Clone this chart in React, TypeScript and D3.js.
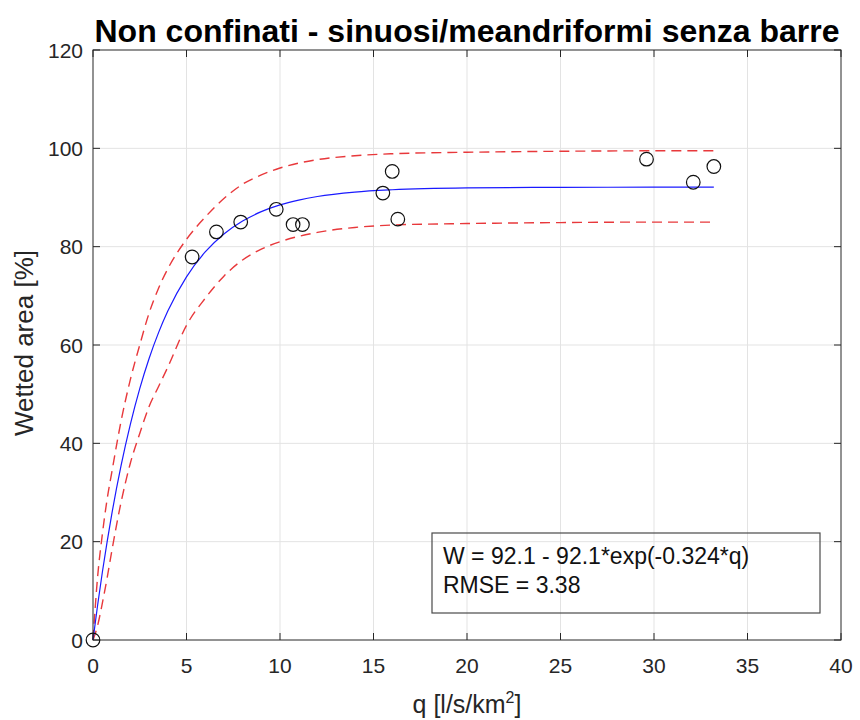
import React from "react";
import * as d3 from "d3";

// Observed data
const obsQ = [0, 5.3, 6.6, 7.9, 9.8, 10.7, 11.2, 15.5, 16.0, 16.3, 29.6, 32.1, 33.2];
const obsW = [0, 77.9, 83.0, 85.0, 87.6, 84.5, 84.5, 90.9, 95.3, 85.6, 97.8, 93.1, 96.3];

// Fitted curve and bounds, sampled along q
const curveQ = [0, 0.25, 0.5, 0.75, 1, 1.5, 2, 2.5, 3, 3.5, 4, 5, 6, 7, 8, 9, 10, 11, 12, 14, 16, 20, 25, 30, 33.2];
const fitW = [0, 7.17, 13.78, 19.87, 25.5, 35.46, 43.92, 51.13, 57.26, 62.47, 66.9, 73.87, 78.92, 82.57, 85.2, 87.12, 88.49, 89.47, 90.21, 91.11, 91.58, 91.96, 92.07, 92.09, 92.1];
const upperW = [0, 13, 21.5, 28.5, 34, 44.5, 53, 60, 66.5, 71.5, 75.5, 81.5, 86, 89.8, 92.7, 94.6, 96.0, 97.0, 97.7, 98.5, 98.9, 99.2, 99.4, 99.5, 99.5];
const lowerW = [0, 3, 7.5, 12.5, 18, 28, 36, 42, 47.5, 51.5, 55.5, 64, 69.5, 74, 77.3, 79.5, 81.0, 82.1, 82.9, 83.9, 84.4, 84.7, 84.9, 85, 85];

const xTicks = [0, 5, 10, 15, 20, 25, 30, 35, 40];
const yTicks = [0, 20, 40, 60, 80, 100, 120];

const titleText = "Non confinati - sinuosi/meandriformi senza barre";
const yLabelText = "Wetted area [%]";
const fitLabel = "W = 92.1 - 92.1*exp(-0.324*q)";
const rmseLabel = "RMSE = 3.38";

export default function App() {
  const W = 860, H = 720;
  const left = 93, right = 841, top = 50, bottom = 640;
  const x = d3.scaleLinear().domain([0, 40]).range([left, right]);
  const y = d3.scaleLinear().domain([0, 120]).range([bottom, top]);

  const mk = (vals: number[]) =>
    d3.line<number>()
      .x((_, i) => x(curveQ[i]))
      .y((v) => y(v))
      .curve(d3.curveMonotoneX)(vals) || "";

  const font = "'Liberation Sans', Arial, Helvetica, sans-serif";
  const axisColor = "#262626";
  const gridColor = "#e3e3e3";
  const tickLen = 7;

  return (
    <svg width={W} height={H} style={{ position: "absolute", left: 0, top: 0, background: "#fff" }} fontFamily={font}>
      <rect x={0} y={0} width={W} height={H} fill="#fff" />
      {/* grid */}
      {xTicks.slice(1, -1).map((t) => (
        <line key={"gx" + t} x1={x(t)} x2={x(t)} y1={top} y2={bottom} stroke={gridColor} strokeWidth={1} />
      ))}
      {yTicks.slice(1, -1).map((t) => (
        <line key={"gy" + t} x1={left} x2={right} y1={y(t)} y2={y(t)} stroke={gridColor} strokeWidth={1} />
      ))}
      {/* bounds and fit */}
      <path d={mk(upperW)} fill="none" stroke="#e8383b" strokeWidth={1.4} strokeDasharray="10,6" />
      <path d={mk(lowerW)} fill="none" stroke="#e8383b" strokeWidth={1.4} strokeDasharray="10,6" />
      <path d={mk(fitW)} fill="none" stroke="#1a1aff" strokeWidth={1.2} />
      {/* axes box */}
      <rect x={left} y={top} width={right - left} height={bottom - top} fill="none" stroke={axisColor} strokeWidth={1} />
      {xTicks.map((t) => (
        <g key={"tx" + t}>
          <line x1={x(t)} x2={x(t)} y1={bottom} y2={bottom - tickLen} stroke={axisColor} />
          <line x1={x(t)} x2={x(t)} y1={top} y2={top + tickLen} stroke={axisColor} />
          <text x={x(t)} y={673} textAnchor="middle" fontSize={21} fill={axisColor}>{t}</text>
        </g>
      ))}
      {yTicks.map((t) => (
        <g key={"ty" + t}>
          <line x1={left} x2={left + tickLen} y1={y(t)} y2={y(t)} stroke={axisColor} />
          <line x1={right} x2={right - tickLen} y1={y(t)} y2={y(t)} stroke={axisColor} />
          <text x={83} y={y(t) + 7.5} textAnchor="end" fontSize={21} fill={axisColor}>{t}</text>
        </g>
      ))}
      {/* data */}
      {obsQ.map((q, i) => (
        <circle key={"p" + i} cx={x(q)} cy={y(obsW[i])} r={6.8} fill="none" stroke="#111" strokeWidth={1.2} />
      ))}
      {/* annotation box */}
      <rect x={432} y={533} width={388} height={80} fill="none" stroke="#4a4a4a" strokeWidth={1.2} />
      <text x={443} y={564} fontSize={23} fill="#111">{fitLabel}</text>
      <text x={443} y={593} fontSize={23} fill="#111">{rmseLabel}</text>
      {/* title */}
      <text x={(left + right) / 2} y={42} textAnchor="middle" fontSize={32} fontWeight="bold" fill="#000">{titleText}</text>
      {/* x label */}
      <text x={(left + right) / 2} y={713} textAnchor="middle" fontSize={25} fill={axisColor}>
        q [l/s/km<tspan fontSize={16} dy={-10}>2</tspan><tspan dy={10}>]</tspan>
      </text>
      {/* y label */}
      <text transform={`translate(33, 343) rotate(-90)`} textAnchor="middle" fontSize={26} fill={axisColor}>
        {yLabelText}
      </text>
    </svg>
  );
}
